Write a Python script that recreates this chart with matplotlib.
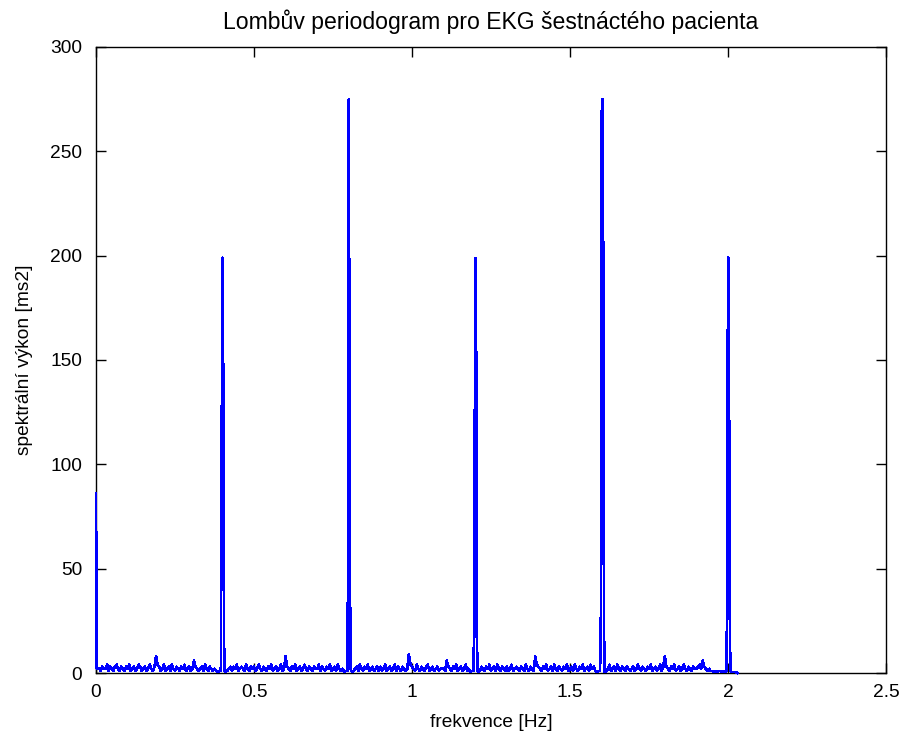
import numpy as np
import matplotlib
matplotlib.use("Agg")
import matplotlib.pyplot as plt

# Sum pozadi periodogramu, krok 0.005 Hz od 0 do 2.03 Hz
sum_00 = [1, 3, 2, 1, 3, 2, 2, 4, 1, 3, 2, 1, 3, 4, 2, 1, 3, 2, 1, 3]
sum_01 = [2, 4, 1, 2, 3, 1, 2, 4, 3, 1, 2, 3, 1, 2, 4, 2, 1, 3, 8, 4]
sum_02 = [3, 1, 2, 4, 1, 2, 3, 1, 4, 2, 1, 3, 2, 1, 3, 2, 4, 1, 2, 3]
sum_03 = [1, 2, 6, 3, 2, 1, 2, 3, 1, 4, 2, 1, 3, 2, 1, 2, 1, 0.5, 1, 0.5]
sum_04 = [0.5, 1, 0.5, 1, 2, 3, 1, 3, 2, 4, 1, 2, 3, 2, 1, 4, 2, 1, 3, 2]
sum_05 = [3, 1, 2, 4, 2, 1, 3, 2, 1, 3, 2, 4, 1, 2, 3, 1, 2, 4, 1, 2]
sum_06 = [8, 3, 2, 1, 3, 2, 4, 1, 2, 3, 1, 2, 4, 2, 1, 3, 2, 1, 3, 2]
sum_07 = [2, 4, 1, 3, 2, 1, 3, 2, 4, 1, 2, 3, 1, 4, 2, 1, 2, 0.5, 1, 0.5]
sum_08 = [0.5, 1, 0.5, 1, 2, 3, 1, 4, 2, 1, 3, 2, 4, 1, 2, 3, 1, 2, 3, 1]
sum_09 = [3, 1, 2, 4, 1, 2, 3, 1, 2, 4, 1, 3, 2, 1, 3, 2, 1, 2, 9, 4]
sum_10 = [3, 2, 1, 4, 2, 1, 3, 2, 1, 3, 4, 1, 2, 3, 1, 2, 3, 1, 2, 2]
sum_11 = [2, 1, 6, 3, 2, 1, 3, 2, 4, 1, 2, 3, 1, 2, 4, 1, 2, 0.5, 1, 0.5]
sum_12 = [0.5, 1, 0.5, 1, 3, 2, 1, 3, 2, 4, 1, 2, 3, 1, 4, 2, 1, 3, 2, 1]
sum_13 = [3, 1, 2, 4, 1, 2, 3, 2, 1, 3, 2, 1, 4, 2, 1, 3, 2, 1, 8, 4]
sum_14 = [3, 2, 1, 3, 2, 4, 1, 2, 3, 1, 4, 2, 1, 3, 2, 1, 3, 2, 4, 1]
sum_15 = [2, 3, 1, 4, 2, 1, 3, 2, 4, 1, 2, 3, 1, 4, 2, 3, 1, 0.5, 1, 0.5]
sum_16 = [0.5, 1, 0.5, 1, 2, 4, 1, 2, 3, 1, 4, 2, 1, 3, 2, 1, 3, 2, 1, 2]
sum_17 = [3, 1, 2, 4, 2, 1, 3, 2, 1, 3, 2, 4, 1, 2, 3, 1, 2, 4, 1, 3]
sum_18 = [8, 3, 2, 1, 3, 2, 4, 1, 2, 3, 1, 2, 4, 2, 1, 3, 2, 1, 3, 2]
sum_19 = [2, 3, 4, 2, 6, 3, 2, 1, 2, 1, 1, 0.5, 1, 0.5, 1, 1, 0.5, 1, 0.5, 0.5]
sum_20 = [0.5, 1, 0.5, 0.5, 0.5, 0.5, 0]

# Spicky (harmonicke), jemnejsi krok 0.0025 Hz
spicka_f = [0.0, 0.0025,
            0.395, 0.3975, 0.4, 0.4025, 0.405, 0.4075,
            0.795, 0.7975, 0.8, 0.8025, 0.805,
            1.195, 1.1975, 1.2, 1.2025, 1.205, 1.2075,
            1.595, 1.5975, 1.6, 1.6025, 1.605, 1.6075,
            1.995, 1.9975, 2.0, 2.0025, 2.005, 2.0075]
spicka_v = [86, 2,
            1, 95, 199, 147, 15, 1,
            1, 43, 275, 113, 2,
            1, 43, 199, 194, 18, 1,
            1, 19, 267, 275, 206, 20,
            1, 37, 199, 199, 37, 1]
stredy = [0.0, 0.4, 0.8, 1.2, 1.6, 2.0]


def sestav_data():
    sum_v = np.array(sum_00 + sum_01 + sum_02 + sum_03 + sum_04 + sum_05 + sum_06
                     + sum_07 + sum_08 + sum_09 + sum_10 + sum_11 + sum_12 + sum_13
                     + sum_14 + sum_15 + sum_16 + sum_17 + sum_18 + sum_19 + sum_20,
                     dtype=float)
    sum_f = np.round(np.arange(len(sum_v)) * 0.005, 4)

    # vyhodit body sumu, ktere lezi primo na spickach
    maska = np.ones(len(sum_f), dtype=bool)
    for s in stredy:
        maska &= np.abs(sum_f - s) > 0.006

    f = np.concatenate([sum_f[maska], spicka_f])
    v = np.concatenate([sum_v[maska], spicka_v])
    poradi = np.argsort(f, kind="stable")
    return f[poradi], v[poradi]


def main():
    plt.rcParams['font.family'] = ['Liberation Sans', 'DejaVu Sans']
    plt.rcParams['font.size'] = 13.8

    f, v = sestav_data()

    fig = plt.figure(figsize=(9.09, 7.40), dpi=100)
    ax = fig.add_axes([96 / 909, 1 - 673 / 740, 790 / 909, 626 / 740])
    ax.plot(f, v, color=(0, 0, 1), linewidth=1.2, antialiased=False,
            clip_on=False, zorder=3)

    ax.set_xlim(0, 2.5)
    ax.set_ylim(0, 300)
    ax.set_xticks([0, 0.5, 1, 1.5, 2, 2.5])
    ax.set_xticklabels(["0", "0.5", "1", "1.5", "2", "2.5"])
    ax.set_yticks(np.arange(0, 301, 50))
    ax.tick_params(direction="in", top=True, right=True, length=7, width=1)
    ax.tick_params(axis="x", pad=8)
    ax.tick_params(axis="y", pad=10)
    for s in ax.spines.values():
        s.set_linewidth(1.0)

    ax.set_title("Lombův periodogram pro EKG šestnáctého pacienta", pad=13)
    ax.set_xlabel("frekvence [Hz]", labelpad=9)
    ax.set_ylabel("spektrální výkon [ms2]", labelpad=12)

    fig.savefig("out.png", dpi=100)


if __name__ == "__main__":
    main()
